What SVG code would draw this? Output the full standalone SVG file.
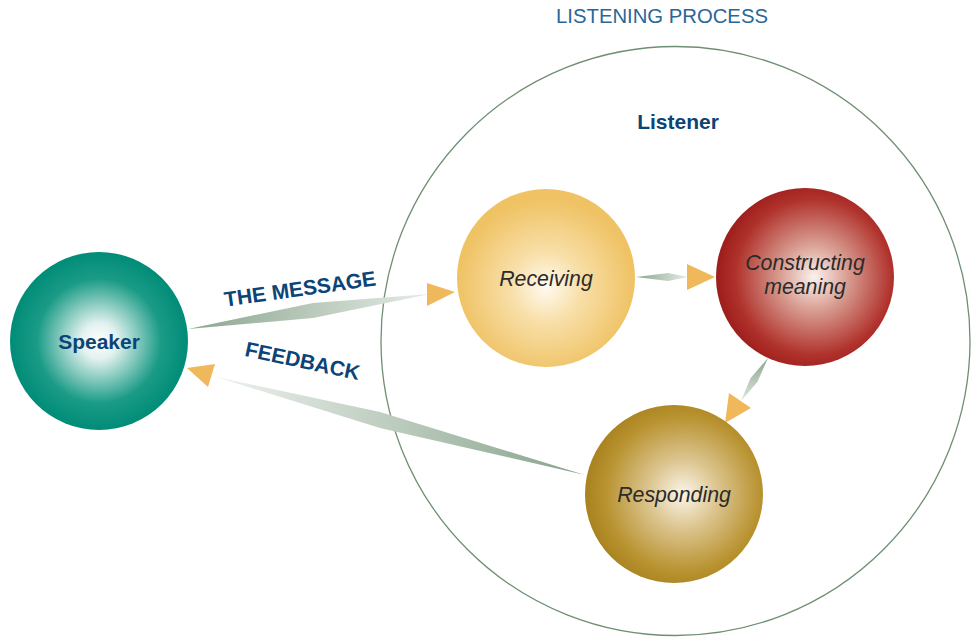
<svg xmlns="http://www.w3.org/2000/svg" width="977" height="637" viewBox="0 0 977 637">
<defs>
<radialGradient id="gSpeaker" cx="0.5" cy="0.5" r="0.5">
<stop offset="0" stop-color="#ffffff"/>
<stop offset="0.2" stop-color="#e3f2ef"/>
<stop offset="0.7" stop-color="#1a9b86"/>
<stop offset="1" stop-color="#008c78"/>
</radialGradient>
<radialGradient id="gRecv" cx="0.5" cy="0.55" r="0.5">
<stop offset="0" stop-color="#fffaf0"/>
<stop offset="0.4" stop-color="#f8dfa8"/>
<stop offset="1" stop-color="#efc263"/>
</radialGradient>
<radialGradient id="gCons" cx="0.55" cy="0.5" r="0.55">
<stop offset="0" stop-color="#fbf2ee"/>
<stop offset="0.35" stop-color="#d89c90"/>
<stop offset="0.8" stop-color="#b0322c"/>
<stop offset="1" stop-color="#9c1c1a"/>
</radialGradient>
<radialGradient id="gResp" cx="0.55" cy="0.5" r="0.55">
<stop offset="0" stop-color="#fbf6ea"/>
<stop offset="0.35" stop-color="#dcc590"/>
<stop offset="0.8" stop-color="#b8922f"/>
<stop offset="1" stop-color="#a8821f"/>
</radialGradient>
<linearGradient id="gShaftR" x1="0" y1="0" x2="1" y2="0">
<stop offset="0" stop-color="#8aa58e"/>
<stop offset="1" stop-color="#e6ece6"/>
</linearGradient>
<linearGradient id="gShaftL" x1="1" y1="0" x2="0" y2="0">
<stop offset="0" stop-color="#86a38a"/>
<stop offset="1" stop-color="#eef2ee"/>
</linearGradient>
<linearGradient id="gShaftD" x1="0" y1="0" x2="0" y2="1">
<stop offset="0" stop-color="#8aa58e"/>
<stop offset="1" stop-color="#dfe7df"/>
</linearGradient>
<style>
.head{fill:#efb95b;}
.lbl{font-family:"Liberation Sans",Arial,sans-serif;font-weight:bold;fill:#0b4476;font-size:21px;}
.it{font-family:"Liberation Sans",Arial,sans-serif;font-style:italic;fill:#2b2b2b;font-size:21.3px;}
</style>
</defs>
<rect width="977" height="637" fill="#ffffff"/>
<text x="662" y="23" text-anchor="middle" font-family="Liberation Sans, Arial, sans-serif" font-size="20.3" fill="#2a6797">LISTENING PROCESS</text>
<g id="listener">
<circle cx="675.5" cy="341" r="294.5" fill="none" stroke="#6f8f72" stroke-width="1.3"/>
<text class="lbl" x="678" y="129" text-anchor="middle">Listener</text>
</g>
<g id="connectors">
<path d="M188,329 L313,303 L430,294 L313,318 Z" fill="url(#gShaftR)"/>
<polygon class="head" points="427,283 455,292 427,306"/>
<path d="M216,377 L380,412 L585,475 L380,428 Z" fill="url(#gShaftL)"/>
<polygon class="head" points="187,368 215,364 208,387"/>
<path d="M636,277 L668,273 L688,277 L668,281 Z" fill="url(#gShaftR)"/>
<polygon class="head" points="687,264 715,277 687,290"/>
<path d="M768,358 L757.4,382 L741,401 L750.6,378 Z" fill="url(#gShaftD)"/>
<polygon class="head" points="729,393 751,408 725,423"/>
</g>
<text class="lbl" transform="translate(301,296) rotate(-8)" text-anchor="middle">THE MESSAGE</text>
<text class="lbl" transform="translate(301,368) rotate(12)" text-anchor="middle">FEEDBACK</text>
<g id="speaker">
<circle cx="99" cy="341" r="89" fill="url(#gSpeaker)"/>
<text class="lbl" x="99" y="349" text-anchor="middle">Speaker</text>
</g>
<g id="receiving">
<circle cx="546" cy="278" r="89" fill="url(#gRecv)"/>
<text class="it" x="546" y="286" text-anchor="middle">Receiving</text>
</g>
<g id="constructing">
<circle cx="805" cy="277" r="89" fill="url(#gCons)"/>
<text class="it" x="805" y="270" text-anchor="middle">Constructing</text>
<text class="it" x="805" y="294" text-anchor="middle">meaning</text>
</g>
<g id="responding">
<circle cx="674" cy="494" r="89" fill="url(#gResp)"/>
<text class="it" x="674" y="502" text-anchor="middle">Responding</text>
</g>
</svg>
